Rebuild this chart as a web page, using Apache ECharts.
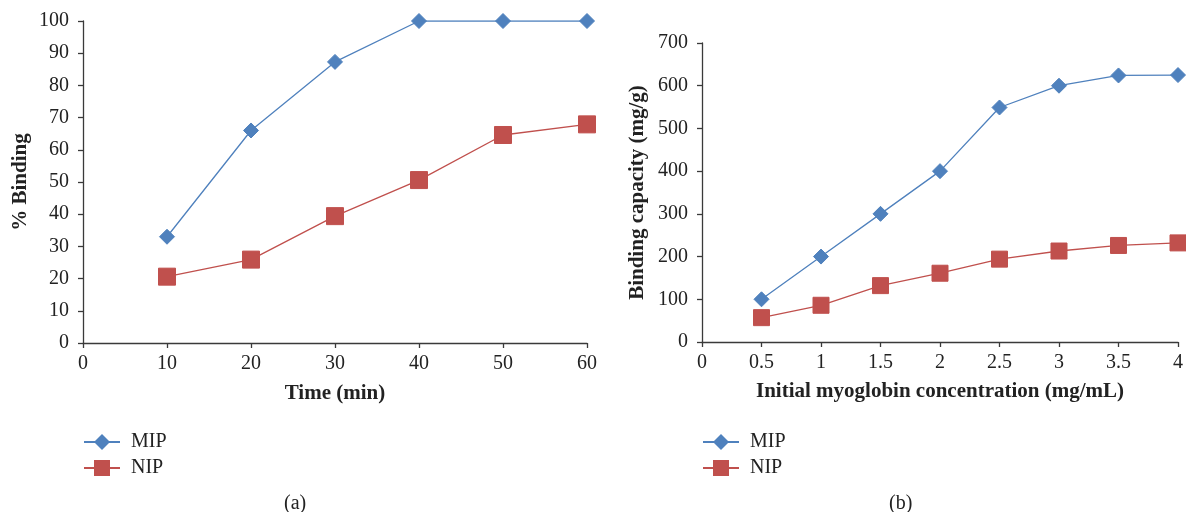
<!DOCTYPE html>
<html>
<head>
<meta charset="utf-8">
<script src="https://cdn.jsdelivr.net/npm/echarts@6/dist/echarts.min.js"></script>
<style>html,body{margin:0;padding:0;background:#fff}#c{width:1186px;height:512px}</style>
</head>
<body>
<div id="c"></div>
<script>
// Panel (a)
const timeMin = [10, 20, 30, 40, 50, 60];
const mipBindingPct = [33, 66, 87.3, 100, 100, 100];
const nipBindingPct = [20.6, 25.9, 39.4, 50.6, 64.6, 67.9];
// Panel (b)
const concMgMl = [0.5, 1, 1.5, 2, 2.5, 3, 3.5, 4];
const mipCapacity = [100, 200, 300, 400, 549, 600, 624, 625];
const nipCapacity = [57, 86, 132, 161, 194, 213, 226, 232];

const FONT = '"Liberation Serif", "DejaVu Serif", serif';
const AX = '#3a3a3a';
const BLUE = '#4F81BD';
const RED = '#C0504D';

function pairs(xs, ys) { return xs.map((x, i) => [x, ys[i]]); }

function xAxis(idx, name, min, max, interval, gap) {
  return {
    gridIndex: idx, type: 'value', min: min, max: max, interval: interval,
    name: name, nameLocation: 'middle', nameGap: gap,
    nameTextStyle: { fontFamily: FONT, fontSize: 21, fontWeight: 'bold', color: '#222' },
    axisLine: { show: true, onZero: false, lineStyle: { color: AX, width: 1.3 } },
    axisTick: { show: true, length: 5, lineStyle: { color: AX, width: 1.3 } },
    axisLabel: { fontFamily: FONT, fontSize: 20, color: '#222', margin: 11 },
    splitLine: { show: false }
  };
}
function yAxis(idx, name, min, max, interval, gap) {
  return {
    gridIndex: idx, type: 'value', min: min, max: max, interval: interval,
    name: name, nameLocation: 'middle', nameGap: gap,
    nameTextStyle: { fontFamily: FONT, fontSize: 21, fontWeight: 'bold', color: '#222' },
    axisLine: { show: true, lineStyle: { color: AX, width: 1.3 } },
    axisTick: { show: true, length: 5, lineStyle: { color: AX, width: 1.3 } },
    axisLabel: { fontFamily: FONT, fontSize: 20, color: '#222', margin: 14 },
    splitLine: { show: false }
  };
}
function series(name, idx, data, color, symbol, size) {
  return {
    name: name, type: 'line', xAxisIndex: idx, yAxisIndex: idx,
    data: data, symbol: symbol, symbolSize: size,
    lineStyle: { color: color, width: 1.3 },
    itemStyle: { color: color, borderColor: color },
    animation: false
  };
}
function legend(left, names) {
  return {
    left: left, top: 432, orient: 'vertical', itemWidth: 36, itemHeight: 20, itemGap: 6,
    padding: 0,
    data: names,
    textStyle: { fontFamily: FONT, fontSize: 20, color: '#222', padding: [0, 0, 0, 6] }
  };
}

const chart = echarts.init(document.getElementById('c'));
chart.setOption({
  backgroundColor: '#fff',
  animation: false,
  grid: [
    { left: 83, right: 599, top: 21, bottom: 169 },
    { left: 702, right: 8, top: 43, bottom: 170 }
  ],
  xAxis: [
    xAxis(0, 'Time (min)', 0, 60, 10, 40),
    xAxis(1, 'Initial myoglobin concentration (mg/mL)', 0, 4, 0.5, 39)
  ],
  yAxis: [
    yAxis(0, '% Binding', 0, 100, 10, 52),
    yAxis(1, 'Binding capacity (mg/g)', 0, 700, 100, 54)
  ],
  legend: [legend(83, ['MIP', 'NIP']), legend(702, ['MIP ', 'NIP '])],
  series: [
    series('MIP', 0, pairs(timeMin, mipBindingPct), BLUE, 'diamond', 15),
    series('NIP', 0, pairs(timeMin, nipBindingPct), RED, 'rect', 17),
    series('MIP ', 1, pairs(concMgMl, mipCapacity), BLUE, 'diamond', 15),
    series('NIP ', 1, pairs(concMgMl, nipCapacity), RED, 'rect', 16)
  ],
  graphic: [
    { type: 'text', left: 284, top: 494, style: { text: '(a)', font: '20px ' + FONT, fill: '#222' } },
    { type: 'text', left: 889, top: 494, style: { text: '(b)', font: '20px ' + FONT, fill: '#222' } }
  ]
});
</script>
</body>
</html>
